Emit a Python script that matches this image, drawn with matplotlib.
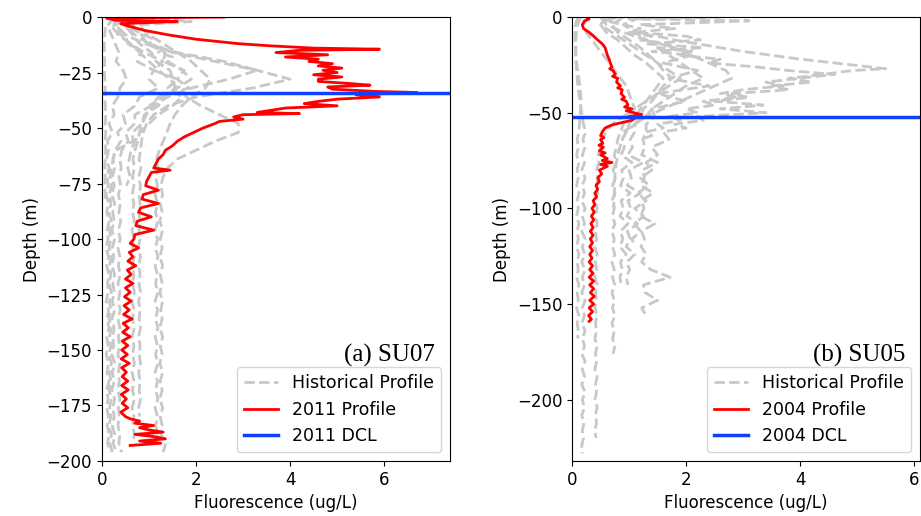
import matplotlib
matplotlib.use("Agg")
import matplotlib.pyplot as plt

# ---------------- (a) SU07 ----------------
depth_grid_a = [0, -4, -8, -12, -16, -20, -24, -28, -32, -36, -40, -44, -48, -52, -56,
                -60, -64, -68, -72, -76, -80, -84, -88, -92, -96, -100, -104, -108,
                -112, -116, -120, -124, -128, -132, -136, -140, -144, -148, -152, -156,
                -160, -164, -168, -172, -176, -180, -184, -188, -192, -196]

hist_a_1 = [0.25, 0.12, 0.2, 0.28, 0.36, 0.3, 0.45, 0.52, 0.38, 0.34, 0.22, 0.26, 0.15, 0.22, 0.12,
            0.14, 0.1, 0.15, 0.11, 0.13, 0.09, 0.14, 0.1, 0.15, 0.11, 0.13, 0.09, 0.14, 0.1,
            0.15, 0.12, 0.13, 0.09, 0.14, 0.11, 0.15, 0.1, 0.13, 0.09, 0.14, 0.11, 0.15, 0.1,
            0.13, 0.1, 0.14, 0.11, 0.15, 0.12, 0.18]
hist_a_2 = [0.5, 0.3, 0.5, 0.55, 0.82, 0.75, 1.1, 1.0, 1.2, 0.8, 0.7, 0.45, 0.5, 0.33, 0.4,
            0.28, 0.23, 0.27, 0.22, 0.26, 0.21, 0.27, 0.23, 0.26, 0.21, 0.27, 0.22, 0.25, 0.21,
            0.27, 0.23, 0.26, 0.22, 0.27, 0.21, 0.26, 0.23, 0.25, 0.21, 0.27, 0.22, 0.26, 0.21,
            0.27, 0.23, 0.26, 0.22, 0.27, 0.24, 0.3]
hist_a_3 = [0.9, 0.6, 0.85, 0.95, 1.35, 1.3, 1.75, 1.6, 1.85, 1.2, 1.05, 0.7, 0.7, 0.5, 0.56,
            0.42, 0.38, 0.41, 0.36, 0.4, 0.35, 0.39, 0.36, 0.4, 0.35, 0.39, 0.34, 0.38, 0.35,
            0.39, 0.34, 0.38, 0.35, 0.39, 0.34, 0.38, 0.35, 0.37, 0.34, 0.38, 0.35, 0.37, 0.34,
            0.38, 0.35, 0.37, 0.34, 0.38, 0.36, 0.42]
hist_a_4 = [0.6, 0.5, 0.7, 1.0, 1.5, 2.4, 3.3, 4.0, 3.2, 2.0, 1.4, 1.1, 0.95, 0.88, 0.84,
            0.82, 0.79, 0.83, 0.78, 0.82, 0.79, 0.81, 0.78, 0.82, 0.79, 0.81, 0.77, 0.82, 0.78,
            0.81, 0.79, 0.82, 0.78, 0.81, 0.79, 0.82, 0.78, 0.81, 0.79, 0.82, 0.78, 0.81, 0.79,
            0.82, 0.78, 0.8]
hist_a_5 = [0.4, 0.3, 0.5, 0.9, 1.6, 2.6, 3.3, 2.7, 1.9, 1.4, 1.1, 0.95, 0.85, 0.80, 0.76,
            0.7, 0.66, 0.69, 0.65, 0.68, 0.64, 0.68, 0.65, 0.69, 0.64, 0.68, 0.65, 0.69, 0.64,
            0.68, 0.65, 0.69, 0.64, 0.68, 0.65, 0.69, 0.64, 0.68, 0.65, 0.69, 0.64, 0.68, 0.65,
            0.69, 0.64, 0.68, 0.65, 0.69, 0.66]
hist_a_6 = [0.3, 0.25, 0.4, 0.6, 0.8, 1.0, 1.2, 1.45, 1.6, 1.8, 2.1, 2.5, 2.9, 2.9, 2.4, 2.0,
            1.6, 1.4, 1.3, 1.25, 1.29, 1.24, 1.28, 1.23, 1.29, 1.24, 1.28, 1.23, 1.29, 1.24,
            1.28, 1.23, 1.29, 1.25, 1.28, 1.23, 1.29, 1.24, 1.28, 1.23, 1.29, 1.24, 1.28, 1.23,
            1.29, 1.24, 1.28, 1.25, 1.36, 1.3]
hist_a_7 = [1.0, 0.8, 1.0, 1.3, 1.6, 1.9, 2.1, 2.3, 2.2, 1.9, 1.7, 1.55, 1.45, 1.38, 1.30,
            1.22, 1.16, 1.19, 1.14, 1.18, 1.13, 1.18, 1.14, 1.19, 1.13, 1.18, 1.14, 1.19, 1.13,
            1.18, 1.14, 1.19, 1.13, 1.18, 1.14, 1.19, 1.13, 1.18, 1.14, 1.19, 1.13, 1.18, 1.14,
            1.19, 1.13, 1.18, 1.14, 1.19, 1.15]
hist_a_8 = [0.3, 0.08, 0.06, 0.05, 0.05, 0.06, 0.05, 0.06, 0.07, 0.06, 0.07, 0.08, 0.07, 0.08,
            0.07, 0.08, 0.07, 0.06, 0.07, 0.06, 0.07, 0.06]
hist_a_9 = [0.7, 0.5, 0.65, 0.8, 1.05, 1.15, 1.45, 1.5, 1.55, 1.3, 1.2, 0.9, 0.85, 0.65, 0.66,
            0.3, 0.24, 0.2, 0.17, 0.2, 0.16, 0.19, 0.15, 0.2, 0.16, 0.19, 0.15, 0.2, 0.16,
            0.19, 0.15, 0.2, 0.16, 0.19, 0.15, 0.2, 0.16, 0.19, 0.15, 0.2, 0.16, 0.19, 0.15,
            0.2, 0.16, 0.19, 0.15, 0.2, 0.17, 0.22]
hist_a_10_depth = [0, -2, -4, -6, -8, -10, -12, -14, -16, -18, -20, -24, -28, -32, -36, -40]
hist_a_10 = [0.6, 1.9, 0.5, 0.7, 0.9, 1.1, 1.0, 1.3, 1.2, 1.5, 1.4, 1.7, 1.9, 1.6, 1.3, 1.0]
hist_a_11 = [0.4, 0.2, 0.35, 0.6, 0.9, 1.3, 1.1, 1.6, 1.4, 1.7, 1.5, 1.2, 1.0, 0.8, 0.7,
             0.62, 0.58, 0.55, 0.6, 0.52]

profile_a_depth = [0, -0.5, -1.5, -2, -3, -4, -6, -8, -10, -12, -13, -14, -14.5, -15, -16, -17,
                   -18, -19, -20, -21, -22, -23, -24, -25, -26, -27, -28, -29, -30, -30.7,
                   -31.5, -32.5, -33.5, -34, -35, -36, -37, -38, -39, -40, -41, -42, -43,
                   -43.5, -44, -45, -46, -47, -48, -50, -52, -54, -56, -58, -60, -62, -64,
                   -66, -68, -69, -70, -72, -74, -76, -78, -80, -82, -84, -86, -88, -90, -92,
                   -94, -96, -98, -100, -102, -104, -106, -108, -110, -112, -114, -116, -118,
                   -120, -122, -124, -126, -128, -130, -132, -134, -136, -138, -140, -142,
                   -144, -146, -148, -150, -152, -154, -156, -158, -160, -162, -164, -166,
                   -168, -170, -172, -174, -176, -178, -180, -181, -182, -183, -184, -185,
                   -186, -187, -188, -189, -190, -191, -192, -193]
profile_a = [2.6, 0.1, 0.3, 1.6, 0.4, 0.55, 0.9, 1.4, 2.0, 2.9, 3.6, 4.5, 5.9, 4.2, 3.7, 4.8,
             3.9, 4.6, 4.4, 4.9, 4.6, 5.1, 4.7, 5.0, 4.5, 5.1, 4.6, 4.6, 5.3, 5.7, 4.8, 4.9,
             5.8, 6.7, 5.4, 5.9, 5.0, 4.6, 4.3, 5.0, 3.9, 3.6, 3.3, 4.2, 3.0, 2.8, 3.0, 2.5,
             2.4, 2.15, 1.95, 1.75, 1.6, 1.5, 1.35, 1.3, 1.2, 1.15, 1.1, 1.45, 1.05, 1.0,
             0.95, 0.93, 1.2, 0.88, 0.85, 1.2, 0.82, 0.78, 1.05, 0.75, 0.72, 1.1, 0.7,
             0.68, 0.6, 0.78, 0.58, 0.66, 0.55, 0.72, 0.54, 0.62, 0.5, 0.66, 0.5, 0.6, 0.48,
             0.62, 0.47, 0.58, 0.46, 0.64, 0.45, 0.56, 0.44, 0.6, 0.43, 0.55, 0.42, 0.54,
             0.41, 0.58, 0.42, 0.52, 0.43, 0.55, 0.42, 0.56, 0.41, 0.52, 0.43, 0.55, 0.4,
             0.5, 0.6, 0.8, 0.7, 1.1, 0.8, 1.0, 1.3, 0.7, 1.1, 1.35, 0.8, 1.25, 0.6]
dcl_a = -34.2

# ---------------- (b) SU05 ----------------
depth_grid_b = [0, -4, -8, -12, -16, -20, -24, -28, -32, -36, -40, -44, -48, -52, -56, -60,
                -64, -68, -72, -76, -80, -84, -88, -92, -96, -100, -104, -108, -112, -116,
                -120, -124, -128, -132, -136, -140, -144, -148, -152, -156, -160, -164, -168,
                -172, -176, -180, -184, -188, -192, -196, -200, -204, -208, -212, -216, -220,
                -224, -228]

hist_b_1 = [0.15, 0.1, 0.08, 0.07, 0.07, 0.06, 0.07, 0.08, 0.09, 0.1, 0.12, 0.14, 0.16, 0.18,
            0.2, 0.24, 0.19, 0.23, 0.18, 0.22, 0.17, 0.23, 0.18, 0.22, 0.17, 0.23, 0.18, 0.22,
            0.17, 0.23, 0.18, 0.22, 0.17, 0.23, 0.18, 0.22, 0.17, 0.23, 0.18, 0.22, 0.17, 0.23,
            0.18, 0.22, 0.17, 0.23, 0.18, 0.22, 0.17, 0.23, 0.18, 0.22, 0.17, 0.21, 0.18, 0.2,
            0.17, 0.18]
hist_b_2 = [0.3, 0.2, 0.25, 0.35, 0.45, 0.55, 0.65, 0.75, 0.85, 0.95, 1.0, 1.05, 1.1, 0.9, 0.7,
            0.6, 0.52, 0.5, 0.46, 0.47, 0.43, 0.46, 0.42, 0.45, 0.41, 0.44, 0.4, 0.44, 0.41,
            0.43, 0.4, 0.44, 0.41, 0.43, 0.4, 0.44, 0.41, 0.43, 0.4, 0.44, 0.41, 0.43, 0.4,
            0.44, 0.41, 0.43, 0.4, 0.44, 0.41, 0.43, 0.4, 0.44, 0.41, 0.43, 0.4, 0.42]
hist_b_3 = [0.6, 0.5, 0.7, 0.9, 1.1, 1.3, 1.5, 1.7, 1.9, 1.7, 1.5, 1.3, 1.1, 0.95, 0.9,
            0.85, 0.8, 0.78, 0.74, 0.77, 0.72, 0.76, 0.71, 0.75, 0.7, 0.74, 0.71, 0.75, 0.7,
            0.74, 0.71, 0.75, 0.7, 0.74, 0.71, 0.75, 0.7, 0.74, 0.71, 0.75, 0.7, 0.74, 0.71,
            0.75, 0.72]
hist_b_4 = [1.2, 0.9, 1.1, 1.3, 1.5, 1.7, 1.9, 2.1, 2.3, 2.0, 1.8, 1.6, 1.4, 1.45, 1.3,
            1.3, 1.24, 1.28, 1.22, 1.5, 1.23, 1.27, 1.21, 1.42, 1.22, 1.26, 1.2, 1.45, 1.22,
            1.27, 1.21, 1.3, 1.22, 1.38, 1.72, 1.25, 1.28, 1.5, 1.22, 1.3]
hist_b_5_depth = [0, -2, -4, -6, -8, -10, -12, -14, -16, -18, -20, -22, -24, -26, -27, -28,
                  -30, -32, -34, -36, -38, -40, -42, -44, -46, -48, -50, -52, -54, -56, -58,
                  -60, -64, -68, -72, -76, -80, -84, -88, -92, -96, -100, -104, -108, -112,
                  -116, -120]
hist_b_5 = [0.8, 0.6, 0.9, 1.2, 1.0, 1.5, 1.8, 2.2, 2.6, 3.0, 3.5, 4.0, 4.6, 5.2, 5.5, 4.9,
            4.4, 3.8, 4.2, 3.5, 3.8, 2.8, 3.1, 2.5, 3.35, 2.6, 3.4, 2.2, 2.3, 1.8, 2.0, 1.6,
            1.7, 1.4, 1.5, 1.3, 1.4, 1.2, 1.35, 1.15, 1.3, 1.1, 1.25, 1.1, 1.2, 1.05, 1.1]
hist_b_6 = [0.5, 0.6, 0.9, 1.3, 1.8, 2.1, 2.4, 2.7, 2.8, 2.5, 2.2, 1.9, 1.6, 1.3, 1.1, 0.95,
            0.88, 0.84, 0.8, 0.78, 0.76, 0.75, 0.74, 0.75, 0.73, 0.74]
hist_b_7_depth = [0, -1, -2, -4, -6, -8, -10, -12, -14, -16, -18, -20, -24, -28, -32, -36,
                  -40, -44, -48, -52, -56, -60]
hist_b_7 = [2.6, 1.0, 3.1, 1.2, 1.8, 1.1, 2.0, 2.25, 1.3, 2.3, 1.4, 2.1, 1.6, 2.2, 1.7, 2.4,
            1.5, 2.0, 1.4, 1.3, 1.1, 0.9]
hist_b_8 = [0.9, 0.7, 0.8, 1.0, 1.2, 1.35, 1.5, 1.6, 1.75, 1.6, 1.5, 1.4, 1.25, 1.2, 1.1,
            1.1, 1.02, 1.06, 0.98, 1.25, 1.0, 1.04, 0.97, 1.2, 0.98, 1.03, 0.96, 1.15, 0.97,
            1.02, 0.95, 1.1, 0.96, 1.01, 0.95, 0.98]
hist_b_9_depth = [-8, -10, -12, -14, -16, -18, -20, -22, -24, -26, -28, -30, -32, -34, -36,
                  -38, -40, -42, -44, -46, -48, -50, -52, -54, -56, -58, -60, -62, -64]
hist_b_9 = [1.0, 1.4, 1.2, 1.7, 1.5, 2.1, 1.9, 2.6, 2.4, 3.2, 3.8, 4.6, 4.0, 3.4, 3.7, 3.0,
            2.6, 2.9, 2.3, 2.5, 2.0, 2.2, 1.7, 1.9, 1.5, 1.6, 1.3, 1.4, 1.2]
hist_b_10 = [0.1, 0.06, 0.05, 0.05, 0.06, 0.07, 0.08, 0.1, 0.12, 0.14, 0.15, 0.16, 0.15, 0.14,
             0.13, 0.12, 0.09, 0.11, 0.08, 0.12, 0.09, 0.11, 0.08, 0.12, 0.09, 0.11, 0.08,
             0.12, 0.09, 0.11, 0.08, 0.12, 0.09, 0.11, 0.08, 0.12, 0.09, 0.11, 0.08, 0.12,
             0.09, 0.11, 0.1]
hist_b_11 = [0.7, 0.5, 0.6, 0.8, 0.95, 1.1, 1.3, 1.45, 1.6, 1.5, 1.4, 1.3, 1.2, 1.1, 1.0,
             0.95, 0.88, 0.92, 0.86, 1.05, 0.87, 0.9, 0.85, 1.02, 0.86, 0.9, 0.84, 0.98, 0.85,
             0.89, 0.84, 0.95, 0.85, 0.88, 0.84, 0.86]

profile_b_depth = [0, -1, -2, -3, -4, -6, -8, -10, -12, -14, -16, -18, -20, -22, -24, -26,
                   -27, -28, -30, -31, -32, -34, -36, -37, -38, -40, -42, -43, -44, -46, -47,
                   -48, -49, -50, -51, -52, -53, -54, -55, -56, -57, -58, -60, -62, -63, -64,
                   -66, -67, -68, -70, -71, -72, -74, -75, -76, -77, -78, -80, -82, -84, -86,
                   -88, -90, -92, -94, -96, -98, -100, -102, -104, -106, -108, -110, -112,
                   -114, -116, -118, -120, -122, -124, -126, -128, -130, -132, -134, -136,
                   -138, -140, -142, -144, -146, -148, -150, -152, -154, -156, -158, -159]
profile_b = [0.25, 0.3, 0.22, 0.2, 0.18, 0.2, 0.3, 0.38, 0.45, 0.53, 0.58, 0.6, 0.62, 0.65,
             0.67, 0.7, 0.66, 0.72, 0.76, 0.71, 0.8, 0.78, 0.85, 0.8, 0.88, 0.86, 0.92, 0.87,
             0.95, 0.98, 0.92, 1.05, 0.95, 1.08, 1.22, 1.0, 1.1, 1.04, 0.9, 0.75, 0.65, 0.58,
             0.53, 0.5, 0.56, 0.5, 0.54, 0.47, 0.55, 0.48, 0.58, 0.5, 0.62, 0.53, 0.7, 0.5,
             0.62, 0.48, 0.52, 0.45, 0.48, 0.42, 0.45, 0.4, 0.43, 0.37, 0.4, 0.35, 0.39, 0.34,
             0.38, 0.33, 0.37, 0.32, 0.37, 0.32, 0.36, 0.31, 0.36, 0.31, 0.35, 0.3, 0.36,
             0.31, 0.37, 0.3, 0.38, 0.31, 0.38, 0.32, 0.39, 0.31, 0.38, 0.3, 0.36, 0.29, 0.34,
             0.3]
dcl_b = -52.5

grey = "#c8c8c8"
red = "#ff0000"
blue = "#1040ff"
fs = 12


def draw_panel(ax, hist, prof_x, prof_y, dcl, year, tag, xmax, ymin, yticks):
    first = True
    for xs, ys in hist:
        ax.plot(xs, ys[:len(xs)], "--", color=grey, lw=2,
                label="Historical Profile" if first else None)
        first = False
    ax.plot(prof_x, prof_y, color=red, lw=2, label=f"{year} Profile")
    ax.axhline(dcl, color=blue, lw=2.5, label=f"{year} DCL")

    ax.set_xlim(0, xmax)
    ax.set_ylim(ymin, 0)
    ax.set_xticks([0, 2, 4, 6])
    ax.set_yticks(yticks)
    ax.tick_params(labelsize=fs)
    ax.set_xlabel("Fluorescence (ug/L)", fontsize=fs)
    ax.set_ylabel("Depth (m)", fontsize=fs)
    ax.legend(loc="lower right", fontsize=12.5)
    ax.text(0.957, 0.224, tag, transform=ax.transAxes, ha="right", va="baseline",
            fontsize=18, family="Liberation Serif")


fig = plt.figure(figsize=(9.21, 5.16), dpi=100)
ax1 = fig.add_axes([0.1107, 0.1066, 0.3779, 0.8604])
ax2 = fig.add_axes([0.6211, 0.1066, 0.3778, 0.8604])

hist_a = [
    (hist_a_8, depth_grid_a),
    (hist_a_1, depth_grid_a),
    (hist_a_2, depth_grid_a),
    (hist_a_3, depth_grid_a),
    (hist_a_9, depth_grid_a),
    (hist_a_11, depth_grid_a),
    (hist_a_5, depth_grid_a),
    (hist_a_4, depth_grid_a),
    (hist_a_6, depth_grid_a),
    (hist_a_7, depth_grid_a),
    (hist_a_10, hist_a_10_depth),
]
hist_b = [
    (hist_b_10, depth_grid_b),
    (hist_b_1, depth_grid_b),
    (hist_b_2, depth_grid_b),
    (hist_b_3, depth_grid_b),
    (hist_b_11, depth_grid_b),
    (hist_b_8, depth_grid_b),
    (hist_b_4, depth_grid_b),
    (hist_b_5, hist_b_5_depth),
    (hist_b_9, hist_b_9_depth),
    (hist_b_6, depth_grid_b),
    (hist_b_7, hist_b_7_depth),
]

draw_panel(ax1, hist_a, profile_a, profile_a_depth, dcl_a, 2011, "(a) SU07",
           7.4, -200, [0, -25, -50, -75, -100, -125, -150, -175, -200])
draw_panel(ax2, hist_b, profile_b, profile_b_depth, dcl_b, 2004, "(b) SU05",
           6.1, -232, [0, -50, -100, -150, -200])

fig.savefig("out.png", dpi=100)
